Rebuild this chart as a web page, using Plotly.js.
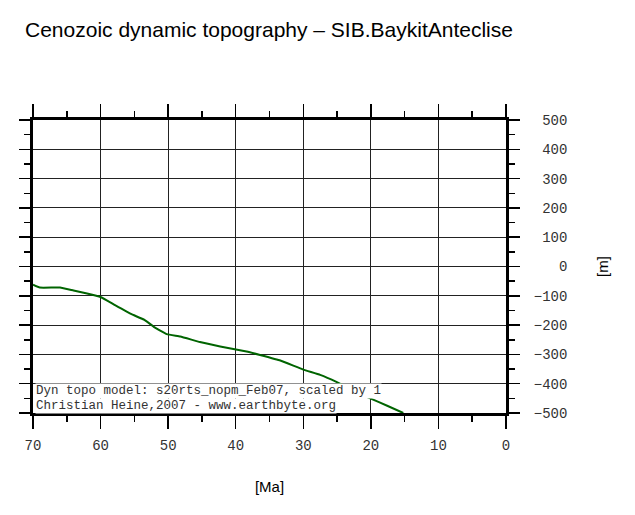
<!DOCTYPE html>
<html>
<head>
<meta charset="utf-8">
<script src="https://cdn.plot.ly/plotly-3.0.1.min.js"></script>
<style>html,body{margin:0;padding:0;background:#fff;}#chart{width:635px;height:515px;}</style>
</head>
<body>
<div id="chart"></div>
<script>
// Age (Ma) and dynamic topography (m)
const ageMa = [70, 69, 66, 64, 62, 60, 58, 55.5, 53.5, 52, 50.2, 48.2, 45.3, 42.3, 38.4, 36.4, 33.4, 30.0, 27.5, 25.1, 22.5, 20.1, 17.5, 15.2];
const topoM = [-62, -72, -72, -82, -92, -104, -130, -162, -182, -208, -231, -239, -258, -273, -290, -302, -321, -352, -370, -394, -425, -450, -476, -500];
const xTicks = [70, 60, 50, 40, 30, 20, 10, 0];
const yTicks = [500, 400, 300, 200, 100, 0, -100, -200, -300, -400, -500];
const noteLines = ['Dyn topo model: s20rts_nopm_Feb07, scaled by 1', 'Christian Heine,2007 - www.earthbyte.org'];

// right-aligned labels for the right-hand axis (monospace padding)
function padLabel(v) {
  const s = (v < 0 ? '\u2212' : '') + Math.abs(v);
  return '\u00a0'.repeat(Math.max(0, 4 - s.length)) + s;
}
const yTickText = yTicks.map(padLabel);

const trace = {
  x: ageMa, y: topoM, type: 'scatter', mode: 'lines',
  line: {color: '#006400', width: 2, shape: 'spline', smoothing: 0.3},
  hoverinfo: 'skip'
};

const tickFont = {family: 'Liberation Mono, DejaVu Sans Mono, monospace', size: 14, color: '#333'};
const noteFont = {family: 'Liberation Mono, DejaVu Sans Mono, monospace', size: 12.5, color: '#333'};
const noteY = [0.075, 0.024];

const layout = {
  width: 635, height: 515,
  margin: {l: 33, r: 129, t: 120, b: 102},
  paper_bgcolor: '#fff', plot_bgcolor: '#fff',
  showlegend: false,
  title: {
    text: 'Cenozoic dynamic topography \u2013 SIB.BaykitAnteclise',
    font: {family: 'Liberation Sans, Arial, sans-serif', size: 21, color: '#000'},
    xref: 'container', yref: 'container', x: 25/635, xanchor: 'left', y: 1 - 30/515, yanchor: 'middle'
  },
  xaxis: {
    range: [70, 0], tickvals: xTicks, ticktext: xTicks.map(String),
    ticks: 'outside', ticklen: 13, tickwidth: 1.5, tickcolor: '#000',
    showline: true, linewidth: 3, linecolor: '#000', mirror: 'ticks',
    showgrid: true, gridcolor: '#222', gridwidth: 1, zeroline: false,
    minor: {dtick: 5, ticks: 'outside', ticklen: 6, tickwidth: 1.5, tickcolor: '#000', showgrid: false},
    tickfont: tickFont, ticklabelstandoff: 4,
    title: {text: '[Ma]', font: {family: 'Liberation Sans, Arial, sans-serif', size: 15, color: '#000'}, standoff: 29}
  },
  yaxis: {
    range: [-500, 500], side: 'right', tickvals: yTicks, ticktext: yTickText,
    ticks: 'outside', ticklen: 11, tickwidth: 1.5, tickcolor: '#000',
    showline: true, linewidth: 3, linecolor: '#000', mirror: 'ticks',
    showgrid: true, gridcolor: '#222', gridwidth: 1, zeroline: false,
    minor: {dtick: 50, ticks: 'outside', ticklen: 6, tickwidth: 1.5, tickcolor: '#000', showgrid: false},
    tickfont: tickFont, ticklabelstandoff: 11,
    title: {text: '[m]', font: {family: 'Liberation Sans, Arial, sans-serif', size: 15, color: '#000'}, standoff: 32}
  },
  annotations: noteLines.map((t, i) => ({
    xref: 'paper', yref: 'paper', x: 0.004, y: noteY[i], xanchor: 'left', yanchor: 'middle',
    align: 'left', showarrow: false, bgcolor: '#fff', borderpad: 0,
    text: t, font: noteFont
  }))
};

Plotly.newPlot('chart', [trace], layout, {displayModeBar: false, staticPlot: true});
</script>
</body>
</html>
